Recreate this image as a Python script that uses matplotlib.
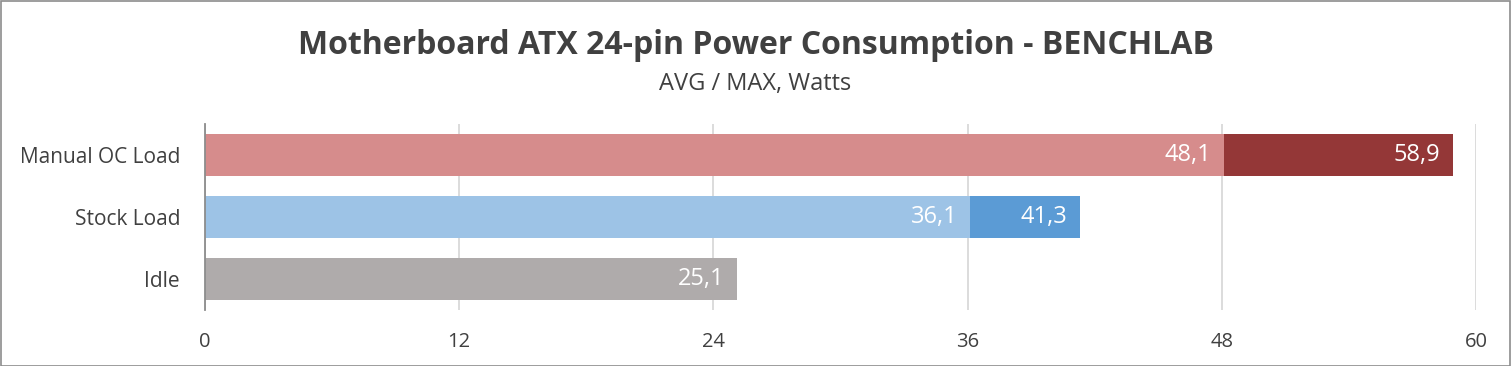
import matplotlib
matplotlib.use("Agg")
import matplotlib.pyplot as plt
from matplotlib.patches import Rectangle
import numpy as np

categories = ["Manual OC Load", "Stock Load", "Idle"]
avg_values = [48.1, 36.1, 25.1]
max_values = [58.9, 41.3, None]
avg_colors = ["#D68C8C", "#9DC3E6", "#AFABAB"]
max_colors = ["#943737", "#5B9BD5", "#AFABAB"]
xticks = [0, 12, 24, 36, 48, 60]

title = "Motherboard ATX 24-pin Power Consumption - BENCHLAB"
subtitle = "AVG / MAX, Watts"

W, H = 1511, 366
fig = plt.figure(figsize=(W / 100, H / 100), dpi=100)
fig.patch.set_facecolor("white")
fig.add_artist(Rectangle((0.5 / W, 0.5 / H), 1 - 1.5 / W, 1 - 1.5 / H, transform=fig.transFigure,
                         fill=False, edgecolor="#8C8C8C", linewidth=1.2))

left, right = 205 / W, 1476 / W
top, bottom = 1 - 124 / H, 1 - 310 / H
ax = fig.add_axes([left, bottom, right - left, top - bottom])

y = np.arange(len(categories))
h = 0.68
for i in range(len(categories)):
    if max_values[i] is not None:
        ax.barh(y[i], max_values[i], height=h, color=max_colors[i], zorder=2)
    ax.barh(y[i], avg_values[i], height=h, color=avg_colors[i], zorder=3)

font = "Open Sans"
lab_size = 17
for i in range(len(categories)):
    ax.annotate(f"{avg_values[i]:.1f}".replace(".", ","), xy=(avg_values[i], y[i]), xytext=(-9, 0),
                textcoords="offset points", ha="right", va="center", color="white",
                fontsize=lab_size, family=font, zorder=5)
    if max_values[i] is not None:
        ax.annotate(f"{max_values[i]:.1f}".replace(".", ","), xy=(max_values[i], y[i]), xytext=(-9, 0),
                    textcoords="offset points", ha="right", va="center", color="white",
                    fontsize=lab_size, family=font, zorder=5)

ax.set_xlim(0, 60)
ax.set_ylim(len(categories) - 0.5, -0.5)
ax.set_xticks(xticks)
ax.set_xticklabels([str(t) for t in xticks], family=font, fontsize=14.5, color="#404040")
ax.set_yticks(y)
ax.set_yticklabels(categories, family=font, fontsize=15, color="#404040")
ax.tick_params(axis="both", length=0)
ax.tick_params(axis="x", pad=16)
ax.tick_params(axis="y", pad=18)
ax.grid(axis="x", color="#D9D9D9", linewidth=1.3, zorder=0)
ax.set_axisbelow(True)
for s in ["top", "right", "bottom"]:
    ax.spines[s].set_visible(False)
ax.spines["left"].set_color("#8C8C8C")
ax.spines["left"].set_linewidth(1.3)
ax.spines["left"].set_zorder(4)

fig.text(0.5, 1 - 46 / H, title, ha="center", va="center", fontsize=23, fontweight="bold",
         family=font, color="#404040")
fig.text(0.5, 1 - 84 / H, subtitle, ha="center", va="center", fontsize=17,
         family=font, color="#404040")

fig.savefig("out.png", dpi=100)
